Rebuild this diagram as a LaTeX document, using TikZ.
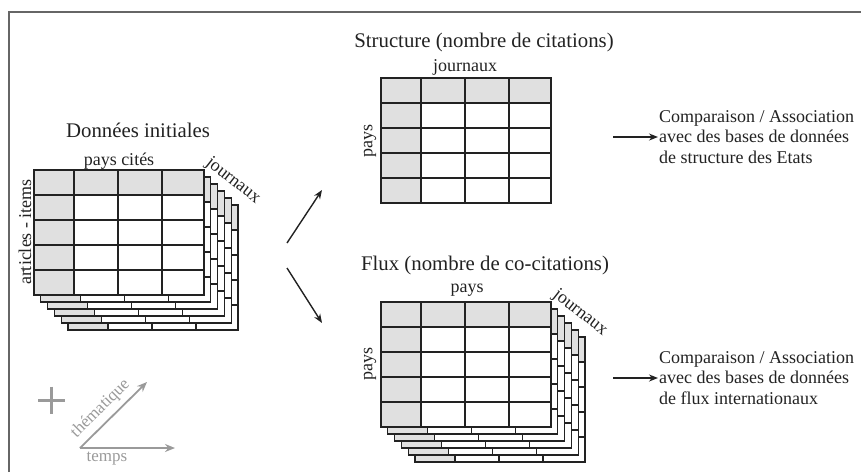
\documentclass[tikz,border=0pt]{standalone}
\usepackage{fontspec}
\setmainfont{Liberation Serif}
\usetikzlibrary{arrows.meta}
\definecolor{hdr}{HTML}{E0E0E0}
\definecolor{ink}{HTML}{222222}
\definecolor{framec}{HTML}{666666}
\definecolor{axisc}{HTML}{9A9A9A}
\tikzset{
  gridline/.style={draw=ink, line width=1.3pt},
  tbl/.pic={
    \fill[white] (0,0) rectangle (170,125);
    \fill[hdr] (0,0) rectangle (170,25);
    \fill[hdr] (0,0) rectangle (40,125);
    \foreach \xx in {40,84,128} \draw[gridline] (\xx,0) -- (\xx,125);
    \foreach \yy in {25,50,75,100} \draw[gridline] (0,\yy) -- (170,\yy);
    \draw[gridline] (0,0) rectangle (170,125);
  },
  stack/.pic={
    \foreach \k in {5,4,3,2,1} \pic at (6.8*\k,7*\k) {tbl};
    \pic at (0,0) {tbl};
  },
  title/.style={font=\fontsize{20.8}{24}\selectfont, text=ink, inner sep=0pt},
  lab/.style={font=\fontsize{18}{21}\selectfont, text=ink, inner sep=0pt},
  side/.style={font=\fontsize{18}{20.5}\selectfont, text=ink, inner sep=0pt, align=left, anchor=west},
  flow/.style={draw=ink, line width=1.4pt, -{Stealth[length=9pt,width=7pt]}},
  axis/.style={draw=axisc, line width=1.8pt, -{Stealth[length=10pt,width=8pt]}},
}
\begin{document}
\begin{tikzpicture}[x=1pt,y=-1pt]
\useasboundingbox (0,0) rectangle (861,472);
% frame
\draw[framec, line width=2pt] (9,472) -- (9,12) -- (861,12);

% left stack
\pic at (34,170) {stack};
\node[title] (tini) at (138,130) {Données initiales};
\node[lab] (lpays) at (119,161) {pays cités};
\node[lab, rotate=90] (lart) at (25,232) {articles - items};
\node[lab, rotate=-38] (ljour) at (233,181) {journaux};

% structure table
\pic at (381,78) {tbl};
\node[title] (tstr) at (484,42) {Structure (nombre de citations)};
\node[lab] (sjour) at (465,67) {journaux};
\node[lab, rotate=90] (spays) at (370,141) {pays};

% flux stack
\pic at (381,302) {stack};
\node[title] (tflux) at (485,265) {Flux (nombre de co-citations)};
\node[lab] (fpays) at (467,290) {pays};
\node[lab, rotate=90] (fpaysl) at (370,364) {pays};
\node[lab, rotate=-38] (fjour) at (580,313) {journaux};

% middle arrows
\coordinate (mu0) at (287,243);
\coordinate (mu1) at (322,190);
\coordinate (md0) at (287,268);
\coordinate (md1) at (322,323);
\draw[flow] (mu0) -- (mu1);
\draw[flow] (md0) -- (md1);

% right texts
\node[side] (rs) at (659,137) {Comparaison / Association\\avec des bases de données\\de structure des Etats};
\node[side] (rf) at (659,378) {Comparaison / Association\\avec des bases de données\\de flux internationaux};
\coordinate (rsa) at (613,137);
\coordinate (rfa) at (613,378);
\draw[flow] (rsa) -- ([xshift=-1pt]rs.west);
\draw[flow] (rfa) -- ([xshift=-1pt]rf.west);

% bottom left
\draw[axisc, line width=3pt] (38,400) -- (65,400) (51.5,386.5) -- (51.5,413.5);
\coordinate (o) at (80,448);
\coordinate (ot) at (175,448);
\coordinate (oh) at (147,382);
\draw[axis] (o) -- (ot);
\draw[axis] (o) -- (oh);
\node[lab, text=axisc, font=\fontsize{17}{20}\selectfont] (ttemps) at (107,459) {temps};
\node[lab, text=axisc, font=\fontsize{17}{20}\selectfont, rotate=45] (tthem) at (100.5,408.5) {thématique};
\end{tikzpicture}
\end{document}
